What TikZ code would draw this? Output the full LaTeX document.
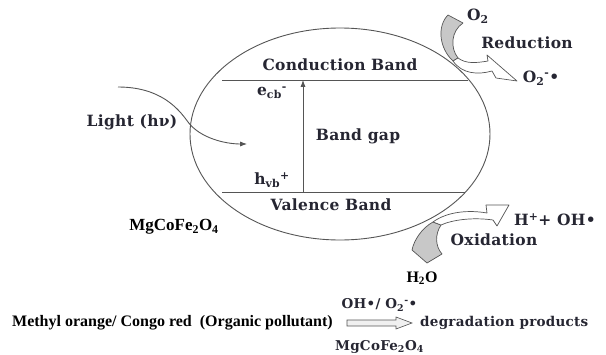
\documentclass[tikz,border=0pt]{standalone}
\usepackage{fontspec}
\setmainfont{Liberation Serif}
\newfontfamily\bandfont[LetterSpace=2]{DejaVu Serif}
\usetikzlibrary{shapes.geometric,arrows.meta,positioning,calc}
\definecolor{inkdark}{RGB}{38,38,50}
\definecolor{linegray}{RGB}{85,85,85}
\definecolor{facegray}{RGB}{200,200,200}

\begin{document}
\begin{tikzpicture}[x=1pt, y=-1pt,
    lbl/.style={font=\bandfont\bfseries\fontsize{15.5}{17}\selectfont, text=inkdark, inner sep=0pt},
    slbl/.style={font=\bandfont\bfseries\fontsize{13.5}{15}\selectfont, text=inkdark, inner sep=0pt},
    tlbl/.style={font=\bfseries\fontsize{16}{18}\selectfont, text=black, inner sep=0pt},
    band/.style={draw=linegray, line width=0.9pt},
    arr/.style={-{Latex[length=2.4mm]}, linegray, line width=0.9pt},
    blockarr/.style={draw=linegray, line width=0.7pt, fill=white, line join=round},
    blockface/.style={draw=linegray, line width=0.7pt, fill=facegray, line join=round}
]
\useasboundingbox (0,0) rectangle (606,354);

% semiconductor grain
\node[ellipse, draw=linegray, line width=0.9pt, inner sep=0pt,
      minimum width=300pt, minimum height=212pt] (grain) at (340,134) {};

% band edges
\coordinate (cbL) at (222,80);
\coordinate (cbR) at (468,80);
\coordinate (vbL) at (222,192);
\coordinate (vbR) at (465,192);
\draw[band] (cbL) -- (cbR);
\draw[band] (vbL) -- (vbR);

\node[lbl] (cbtext) at (340,65) {Conduction Band};
\node[lbl] (vbtext) at (331,205) {Valence Band};
\node[lbl] (gaptext) at (358,136) {Band gap};
\node[lbl] (ecb) at (272,93) {e\textsubscript{cb}\textsuperscript{-}};
\node[lbl] (hvb) at (272,180) {h\textsubscript{vb}\textsuperscript{+}};

% excitation across the gap
\coordinate (gapfoot) at (303,192);
\coordinate (gaphead) at (303,80);
\draw[arr] (gapfoot) -- (gaphead);

% incoming light
\node[lbl] (light) at (132,122) {Light (hν)};
\coordinate (lightstart) at (118,87);
\coordinate (lighttip) at (247,144);
\draw[arr] (lightstart) .. controls (160,87) and (178,108) .. (188,122)
           .. controls (200,138) and (225,144) .. (lighttip);

\node[tlbl, font=\bfseries\fontsize{17}{19}\selectfont] (ferrite) at (174,227) {MgCoFe\textsubscript{2}O\textsubscript{4}};

% reduction at the conduction band
\draw[blockface] (448,15) -- (463,23) .. controls (451,31) and (450,48) .. (458,58)
                 -- (453,61) .. controls (439,48) and (437,26) .. (448,15) -- cycle;
\draw[blockarr] (458,58) .. controls (466,64) and (476,63) .. (488,61)
                -- (487,55) -- (517,81) -- (496,78) -- (492,71)
                .. controls (478,75) and (462,74) .. (453,61) -- cycle;
\node[lbl] (otwo) at (478,16) {O\textsubscript{2}};
\node[lbl] (redtext) at (527,43) {Reduction};
\node[lbl] (superox) at (541,78) {O\textsubscript{2}\textsuperscript{-}•};

% oxidation at the valence band
\draw[blockface] (433,222) -- (441,225) .. controls (435,234) and (435,246) .. (442,254)
                 -- (427,263) -- (412,250) .. controls (414,240) and (422,228) .. (433,222) -- cycle;
\draw[blockarr] (433,222) .. controls (448,211) and (470,210) .. (487,213)
                -- (486,205) -- (509,205) -- (497,226) -- (493,220)
                .. controls (472,217) and (452,220) .. (441,225) -- cycle;
\node[lbl] (hydro) at (555,220) {H\textsuperscript{+}+ OH•};
\node[lbl] (oxtext) at (494,240) {Oxidation};
\node[tlbl] (water) at (422,278) {H\textsubscript{2}O};

% overall degradation
\node[tlbl, anchor=west] (pollutant) at (12,323) {Methyl orange/ Congo red\ \ (Organic pollutant)};
\node[slbl, anchor=west] (products) at (420,323) {degradation products};
\coordinate (degstart) at ($(pollutant.east)+(14,0)$);
\coordinate (degtip) at ($(products.west)+(-8,0)$);
\draw[draw=linegray, line width=0.6pt, fill=black!6]
     ($(degstart)+(0,-3)$) -- ($(degtip)+(-16,-3)$) -- ($(degtip)+(-16,-6)$) -- (degtip)
     -- ($(degtip)+(-16,6)$) -- ($(degtip)+(-16,3)$) -- ($(degstart)+(0,3)$) -- cycle;
\node[slbl] (radicals) at ($(degstart)!0.5!(degtip)+(0,-18)$) {OH•/ O\textsubscript{2}\textsuperscript{-}•};
\node[slbl] (catalyst) at ($(degstart)!0.5!(degtip)+(0,24)$) {MgCoFe\textsubscript{2}O\textsubscript{4}};

\end{tikzpicture}
\end{document}
